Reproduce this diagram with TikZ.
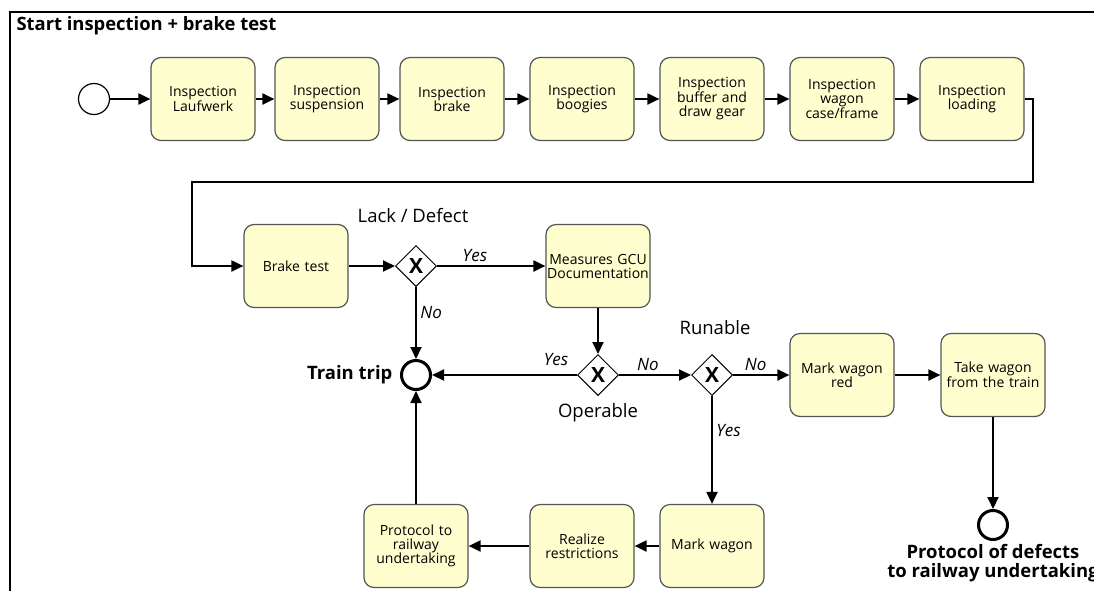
\documentclass[tikz,border=0pt]{standalone}
\usepackage{fontspec}
\setmainfont{Open Sans}
\usepackage{xcolor}
\usepackage{tikz}
\usetikzlibrary{positioning, arrows.meta, shapes.geometric}
\definecolor{taskyellow}{HTML}{FEFECE}
\definecolor{taskgray}{HTML}{555555}

\tikzset{
  task/.style={fill=taskyellow, draw=taskgray, line width=1.2pt, rounded corners=10pt,
               minimum width=104pt, minimum height=83pt, text width=102pt, inner sep=1pt,
               align=center, font=\fontsize{14}{14}\selectfont},
  gateway/.style={diamond, draw=black, fill=white, line width=1pt, minimum width=41pt,
                  minimum height=41pt, inner sep=0pt, font=\fontsize{21}{21}\selectfont\bfseries},
  startevent/.style={circle, draw=black, fill=white, line width=1.2pt, minimum size=31pt, inner sep=0pt},
  endevent/.style={circle, draw=black, fill=white, line width=3pt, minimum size=29pt, inner sep=0pt},
  flow/.style={line width=2pt, -{Triangle[length=12pt, width=11pt]}},
  cond/.style={font=\fontsize{17}{17}\selectfont\itshape},
  gwlabel/.style={font=\fontsize{18.5}{18.5}\selectfont},
  evlabel/.style={font=\fontsize{18.5}{19}\selectfont\bfseries, align=center}
}

\begin{document}
\begin{tikzpicture}[x=1pt, y=-1pt]
  \useasboundingbox (0,0) rectangle (1094,590);
  \clip (0,0) rectangle (1094,590);
  \fill[white] (0,0) rectangle (1094,590);

  % pool
  \draw[line width=2pt] (10,600) -- (10,12) -- (1100,12);
  \node[anchor=west, font=\fontsize{18.4}{18.4}\selectfont\bfseries] (pooltitle) at (13,26) {Start inspection + brake test};

  % inspections
  \node[startevent] (start) at (94,99) {};
  \node[task] (laufwerk) at (203,99) {Inspection\\Laufwerk};
  \node[task] (suspension) at (327,99) {Inspection\\suspension};
  \node[task] (brake) at (452,99) {Inspection\\brake};
  \node[task] (boogies) at (582,99) {Inspection\\boogies};
  \node[task] (buffer) at (712,99) {Inspection\\buffer and\\draw gear};
  \node[task] (frame) at (842,99) {Inspection\\wagon\\case/frame};
  \node[task] (loading) at (972,99) {Inspection\\loading};

  % brake test and decisions
  \node[task] (braketest) at (296,266) {Brake test};
  \node[gateway] (defect) at (416,266) {X};
  \node[gwlabel] (defectlabel) at (413,216) {Lack / Defect};
  \node[task] (measures) at (598,266) {Measures GCU\\Documentation};
  \node[gateway] (operable) at (598,375) {X};
  \node[gwlabel] (operablelabel) at (598,413) {Operable};
  \node[endevent] (traintrip) at (416,375) {};
  \node[evlabel, anchor=east] (traintriplabel) at (396,375) {Train trip};
  \node[gateway] (runable) at (712,375) {X};
  \node[gwlabel] (runablelabel) at (715,328) {Runable};
  \node[task] (markred) at (842,375) {Mark wagon\\red};
  \node[task] (takewagon) at (993,375) {Take wagon\\from the train};
  \node[endevent] (defectend) at (993,525) {};
  \node[evlabel] (defectendlabel) at (993,563) {Protocol of defects\\to railway undertaking};
  \node[task] (markwagon) at (712,546) {Mark wagon};
  \node[task] (restrictions) at (582,546) {Realize\\restrictions};
  \node[task] (protocol) at (416,546) {Protocol to\\railway\\undertaking};

  \coordinate (bendright) at (1033,182);
  \coordinate (bendleft) at (192,182);

  % flows
  \draw[flow] (start) -- (laufwerk);
  \draw[flow] (laufwerk) -- (suspension);
  \draw[flow] (suspension) -- (brake);
  \draw[flow] (brake) -- (boogies);
  \draw[flow] (boogies) -- (buffer);
  \draw[flow] (buffer) -- (frame);
  \draw[flow] (frame) -- (loading);
  \draw[flow] (loading.east) -| (bendright) -- (bendleft) |- (braketest.west);
  \draw[flow] (braketest) -- (defect);
  \draw[flow] (defect) -- node[cond, above, pos=0.35] {Yes} (measures);
  \draw[flow] (defect) -- node[cond, right, pos=0.35] {No} (traintrip);
  \draw[flow] (measures) -- (operable);
  \draw[flow] (operable) -- (traintrip);
  \node[cond] (operableyes) at (556,360) {Yes};
  \draw[flow] (operable) -- node[cond, above, pos=0.4] {No} (runable);
  \draw[flow] (runable) -- node[cond, above, pos=0.4] {No} (markred);
  \draw[flow] (runable) -- node[cond, right, pos=0.32] {Yes} (markwagon);
  \draw[flow] (markred) -- (takewagon);
  \draw[flow] (takewagon) -- (defectend);
  \draw[flow] (markwagon) -- (restrictions);
  \draw[flow] (restrictions) -- (protocol);
  \draw[flow] (protocol) -- (traintrip);
\end{tikzpicture}
\end{document}
